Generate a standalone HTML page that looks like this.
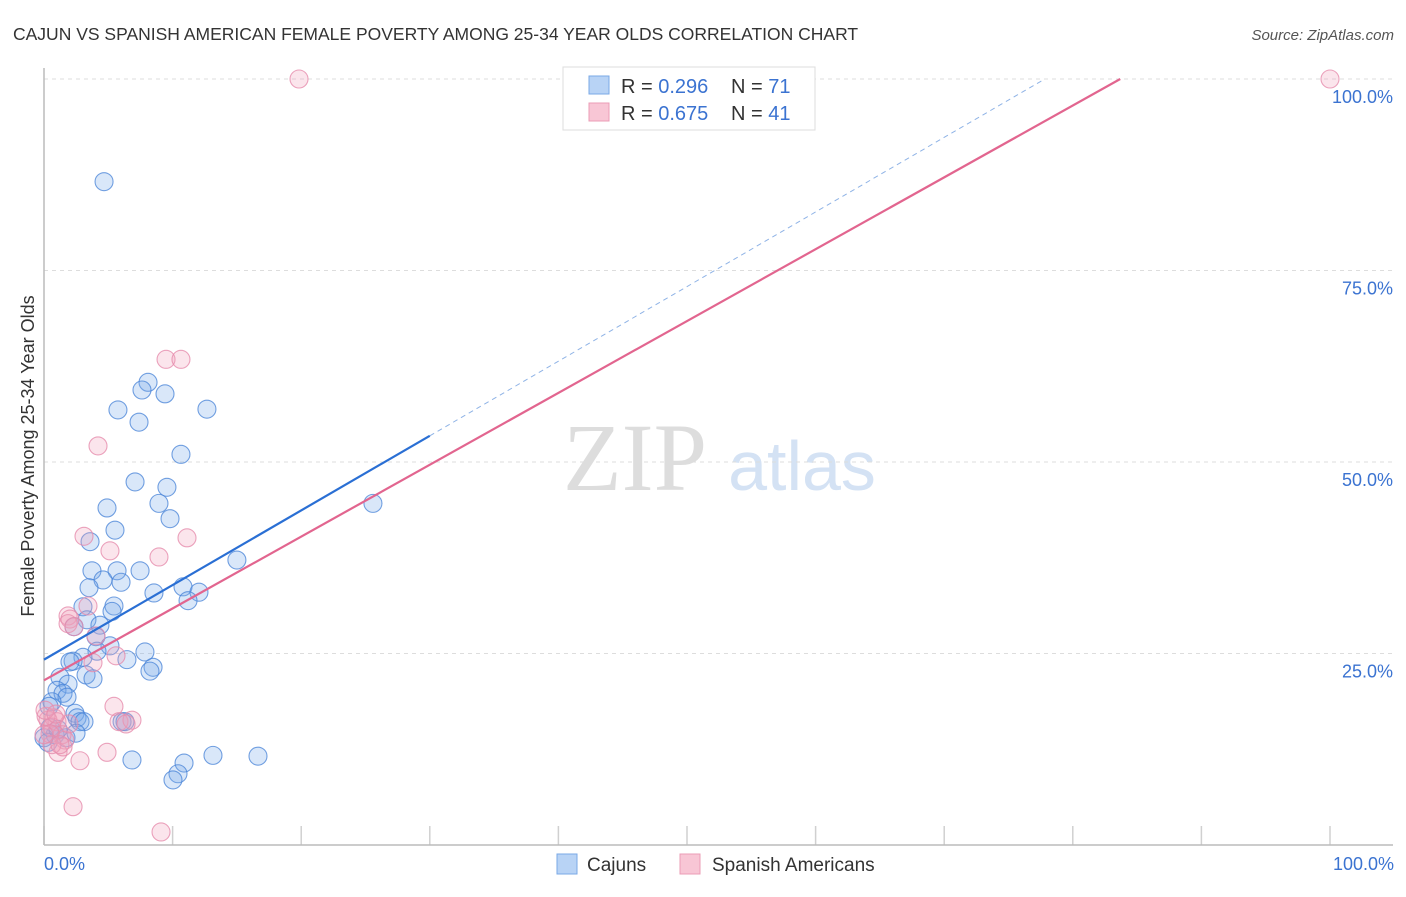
<!DOCTYPE html>
<html><head><meta charset="utf-8"><style>
body{margin:0;background:#fff;font-family:"Liberation Sans",sans-serif;}
</style></head><body>
<svg id="c" width="1406" height="892" xmlns="http://www.w3.org/2000/svg" style="font-family:'Liberation Sans',sans-serif">
<text x="13" y="40" font-size="17.5" fill="#333">CAJUN VS SPANISH AMERICAN FEMALE POVERTY AMONG 25-34 YEAR OLDS CORRELATION CHART</text>
<text x="1394" y="40" font-size="15" fill="#555" font-style="italic" text-anchor="end">Source: ZipAtlas.com</text>
<text x="635" y="490" font-size="96" fill="#ddd" font-family="Liberation Serif" text-anchor="middle">ZIP</text>
<text x="802" y="490" font-size="70" fill="#d4e2f4" text-anchor="middle">atlas</text>
<text transform="translate(34,456) rotate(-90)" font-size="18" fill="#333" text-anchor="middle">Female Poverty Among 25-34 Year Olds</text>
<g id="grid"></g><g id="marks"></g>
<g>
<rect x="563" y="67" width="252" height="63" fill="#fff" stroke="#ddd"/>
<rect x="589" y="76" width="20" height="18" fill="#b8d3f5" stroke="#7aa8e6"/>
<rect x="589" y="103" width="20" height="18" fill="#f8c6d5" stroke="#eb9cb6"/>
<text x="621" y="93" font-size="20" fill="#333">R = <tspan fill="#3b73d1">0.296</tspan></text>
<text x="731" y="93" font-size="20" fill="#333">N = <tspan fill="#3b73d1">71</tspan></text>
<text x="621" y="120" font-size="20" fill="#333">R = <tspan fill="#3b73d1">0.675</tspan></text>
<text x="731" y="120" font-size="20" fill="#333">N = <tspan fill="#3b73d1">41</tspan></text>
</g>
<g>
<rect x="557" y="854" width="20" height="20" fill="#b8d3f5" stroke="#7aa8e6"/>
<text x="587" y="871" font-size="19" fill="#333">Cajuns</text>
<rect x="680" y="854" width="20" height="20" fill="#f8c6d5" stroke="#eb9cb6"/>
<text x="712" y="871" font-size="19" fill="#333">Spanish Americans</text>
</g>
</svg>
<script>
const yTicks=[25,50,75,100];
const yTickLabels=["25.0%","50.0%","75.0%","100.0%"];
const xTicks=[0,10,20,30,40,50,60,70,80,90,100];
const cajunX=[4.67,8.09,7.62,9.41,5.75,12.67,7.39,10.65,7.08,9.56,8.94,4.90,9.80,5.52,3.58,15.0,3.73,5.68,7.47,4.59,5.99,3.50,8.55,10.81,12.05,11.2,5.44,3.03,5.29,3.34,4.35,2.33,4.04,5.13,7.85,4.12,3.03,2.26,2.02,6.45,8.48,8.24,1.24,3.27,3.81,1.87,1.01,1.48,1.79,0.62,0.39,2.41,2.57,2.80,3.11,6.07,6.30,0.47,0.86,1.71,2.49,6.84,10.89,10.42,10.03,13.14,16.64,25.58,0,0.31,1.09];
const cajunY=[86.6,60.4,59.4,58.9,56.8,56.9,55.2,51.0,47.4,46.7,44.6,44.0,42.6,41.1,39.6,37.2,35.8,35.8,35.8,34.6,34.3,33.6,32.9,33.7,33.0,31.9,31.2,31.1,30.5,29.4,28.7,28.5,27.2,26.0,25.2,25.3,24.5,24.0,23.9,24.2,23.2,22.7,21.9,22.2,21.7,21.0,20.2,19.8,19.3,18.7,18.1,17.2,16.6,16.1,16.1,16.1,16.1,15.3,14.4,14.0,14.6,11.1,10.7,9.3,8.5,11.7,11.6,44.6,14.0,13.4,15.1];
const spanX=[19.83,100,9.49,10.65,4.2,3.11,5.13,8.94,11.12,1.87,2.02,3.42,4.04,3.81,5.6,1.87,2.33,5.44,5.83,6.84,6.38,0.78,0.31,1.01,0.62,1.4,1.63,1.09,1.48,2.8,4.9,2.26,9.1,0.16,0.47,0.08,0.62,1.24,0,1.94,0.93];
const spanY=[100,100,63.4,63.4,52.1,40.3,38.4,37.6,40.1,29.9,29.5,31.2,27.3,23.8,24.7,28.9,28.5,18.1,16.1,16.3,15.8,16.6,16.3,16.1,15.4,14.4,13.7,12.1,12.8,11.0,12.1,5.0,1.7,16.8,14.5,17.6,13.1,13.1,14.4,15.8,17.1];
const cajunFit=[24.2,0.974];
const spanFit=[21.5,0.938];
const X=v=>44+v*12.86, Y=v=>845-v*7.66;
const NS="http://www.w3.org/2000/svg";
function mk(t,a,p){const e=document.createElementNS(NS,t);for(const k in a)e.setAttribute(k,a[k]);p.appendChild(e);return e;}
const g=document.getElementById('grid'),m=document.getElementById('marks');
yTicks.forEach((t,i)=>{
 const l=mk('line',{x1:44,x2:1393,y1:Y(t),y2:Y(t),stroke:'#ddd','stroke-dasharray':'4,4'},g);
 
 
 const tx=mk('text',{x:1393,y:Y(t)+24,'font-size':18,fill:'#3b73d1','text-anchor':'end'},g);
 tx.textContent=yTickLabels[i];
 
 
});
xTicks.forEach(t=>{
 const l=mk('line',{x1:X(t),x2:X(t),y1:826,y2:845,stroke:'#d0d0d0','stroke-width':1.5},g);
 
 
});
const ax=mk('line',{x1:44,x2:1393,y1:845,y2:845,stroke:'#bbb','stroke-width':1.5},g);


const ay=mk('line',{x1:44,x2:44,y1:68,y2:845,stroke:'#bbb','stroke-width':1.5},g);


[[0,"0.0%",'start',44],[100,"100.0%",'end',1394]].forEach(a=>{
 const t=mk('text',{x:a[3],y:870,'font-size':18,fill:'#3b73d1','text-anchor':a[2]},g);
 t.textContent=a[1];
 
 
});
function pts(xs,ys,fill,stroke,name){
 xs.forEach((x,i)=>{
  const c=mk('circle',{cx:X(x),cy:Y(ys[i]),r:9,fill:fill,stroke:stroke,'stroke-width':1.1},m);
  
  
 });
}
pts(cajunX,cajunY,'rgba(120,170,235,0.28)','rgba(70,130,215,0.75)','cajun-point');
pts(spanX,spanY,'rgba(242,160,188,0.28)','rgba(230,140,172,0.8)','spanish-american-point');
const b1=mk('line',{x1:X(0),y1:Y(cajunFit[0]),x2:X(30),y2:Y(cajunFit[0]+30*cajunFit[1]),stroke:'#2a6fd4','stroke-width':2.2},m);


const xe=(100-cajunFit[0])/cajunFit[1];
const b2=mk('line',{x1:X(30),y1:Y(cajunFit[0]+30*cajunFit[1]),x2:X(xe),y2:Y(100),stroke:'#8fb3e6','stroke-width':1,'stroke-dasharray':'5,4'},m);


const xp=(100-spanFit[0])/spanFit[1];
const p1=mk('line',{x1:X(0),y1:Y(spanFit[0]),x2:X(xp),y2:Y(100),stroke:'#e2658f','stroke-width':2.2},m);


</script>
</body></html>
